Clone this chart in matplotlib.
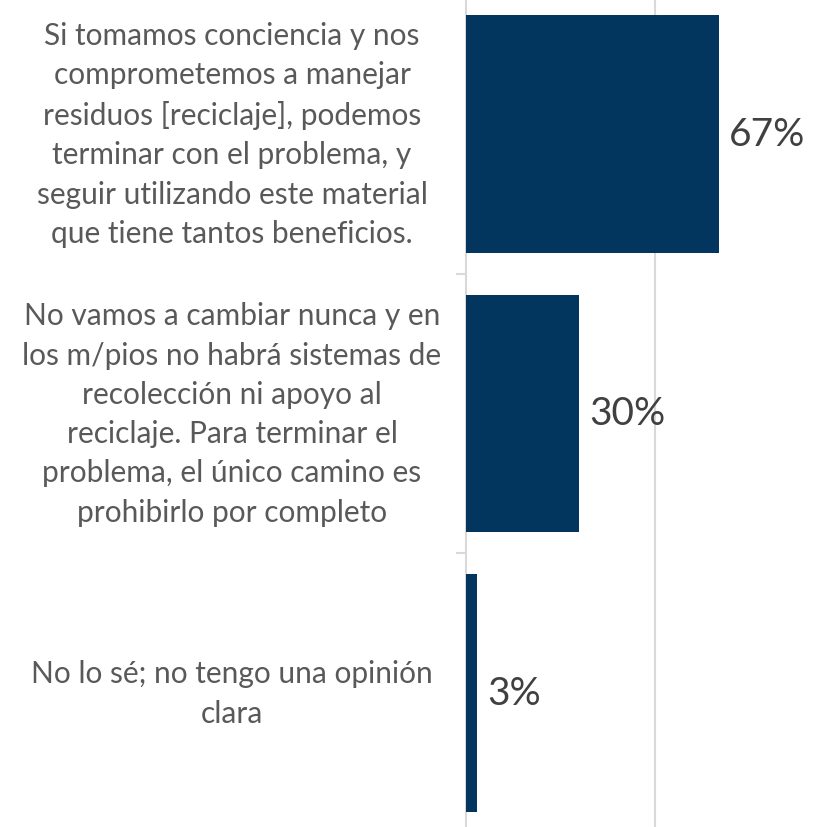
import matplotlib
matplotlib.use("Agg")
import matplotlib.pyplot as plt
from matplotlib.transforms import blended_transform_factory

categories = [
    "Si tomamos conciencia y nos\ncomprometemos a manejar\nresiduos [reciclaje], podemos\nterminar con el problema, y\nseguir utilizando este material\nque tiene tantos beneficios.",
    "No vamos a cambiar nunca y en\nlos m/pios no habrá sistemas de\nrecolección ni apoyo al\nreciclaje. Para terminar el\nproblema, el único camino es\nprohibirlo por completo",
    "No lo sé; no tengo una opinión\nclara",
]
values = [0.67, 0.30, 0.03]
value_labels = ["67%", "30%", "3%"]

W, H = 827, 828
fig = plt.figure(figsize=(W / 100, H / 100), dpi=100)
ax_left = 466 / W
ax = fig.add_axes([ax_left, 0, 1 - ax_left, 1])

bar_color = "#03365F"
grid_color = "#D9D9D9"
text_color = "#595959"
font = ["Lato", "DejaVu Sans"]

y = list(range(len(categories)))
ax.barh(y, values, height=0.85, color=bar_color, zorder=3)

# scale: 0.5 at 655px
px_per_unit = (655 - 466) / 0.5
ax.set_xlim(0, (W - 466) / px_per_unit)
band = 279.5
c0 = 135
ax.set_ylim((H - c0) / band, -c0 / band)

ax.set_xticks([0.5])
ax.xaxis.grid(True, color=grid_color, linewidth=1.5, zorder=0)
ax.tick_params(axis="x", length=0, labelbottom=False)
ax.set_yticks([])
ax.set_yticks([0.5, 1.5], minor=True)
ax.tick_params(axis="y", which="minor", length=7.5, width=1.5, color=grid_color, labelleft=False)
for s in ["top", "right", "bottom"]:
    ax.spines[s].set_visible(False)
ax.spines["left"].set_color(grid_color)
ax.spines["left"].set_linewidth(1.5)

trans = blended_transform_factory(fig.transFigure, ax.transData)
for yi, cat in zip(y, categories):
    ax.text(232 / W, yi, cat, transform=trans, ha="center", va="center",
            multialignment="center", fontsize=21.5, color=text_color,
            family=font, linespacing=1.49)

for yi, v, lab in zip(y, values, value_labels):
    ax.annotate(lab, (v, yi), xytext=(10, 0), textcoords="offset pixels",
                ha="left", va="center", fontsize=28, color="#404040", family=font)

fig.savefig("out.png", dpi=100)
